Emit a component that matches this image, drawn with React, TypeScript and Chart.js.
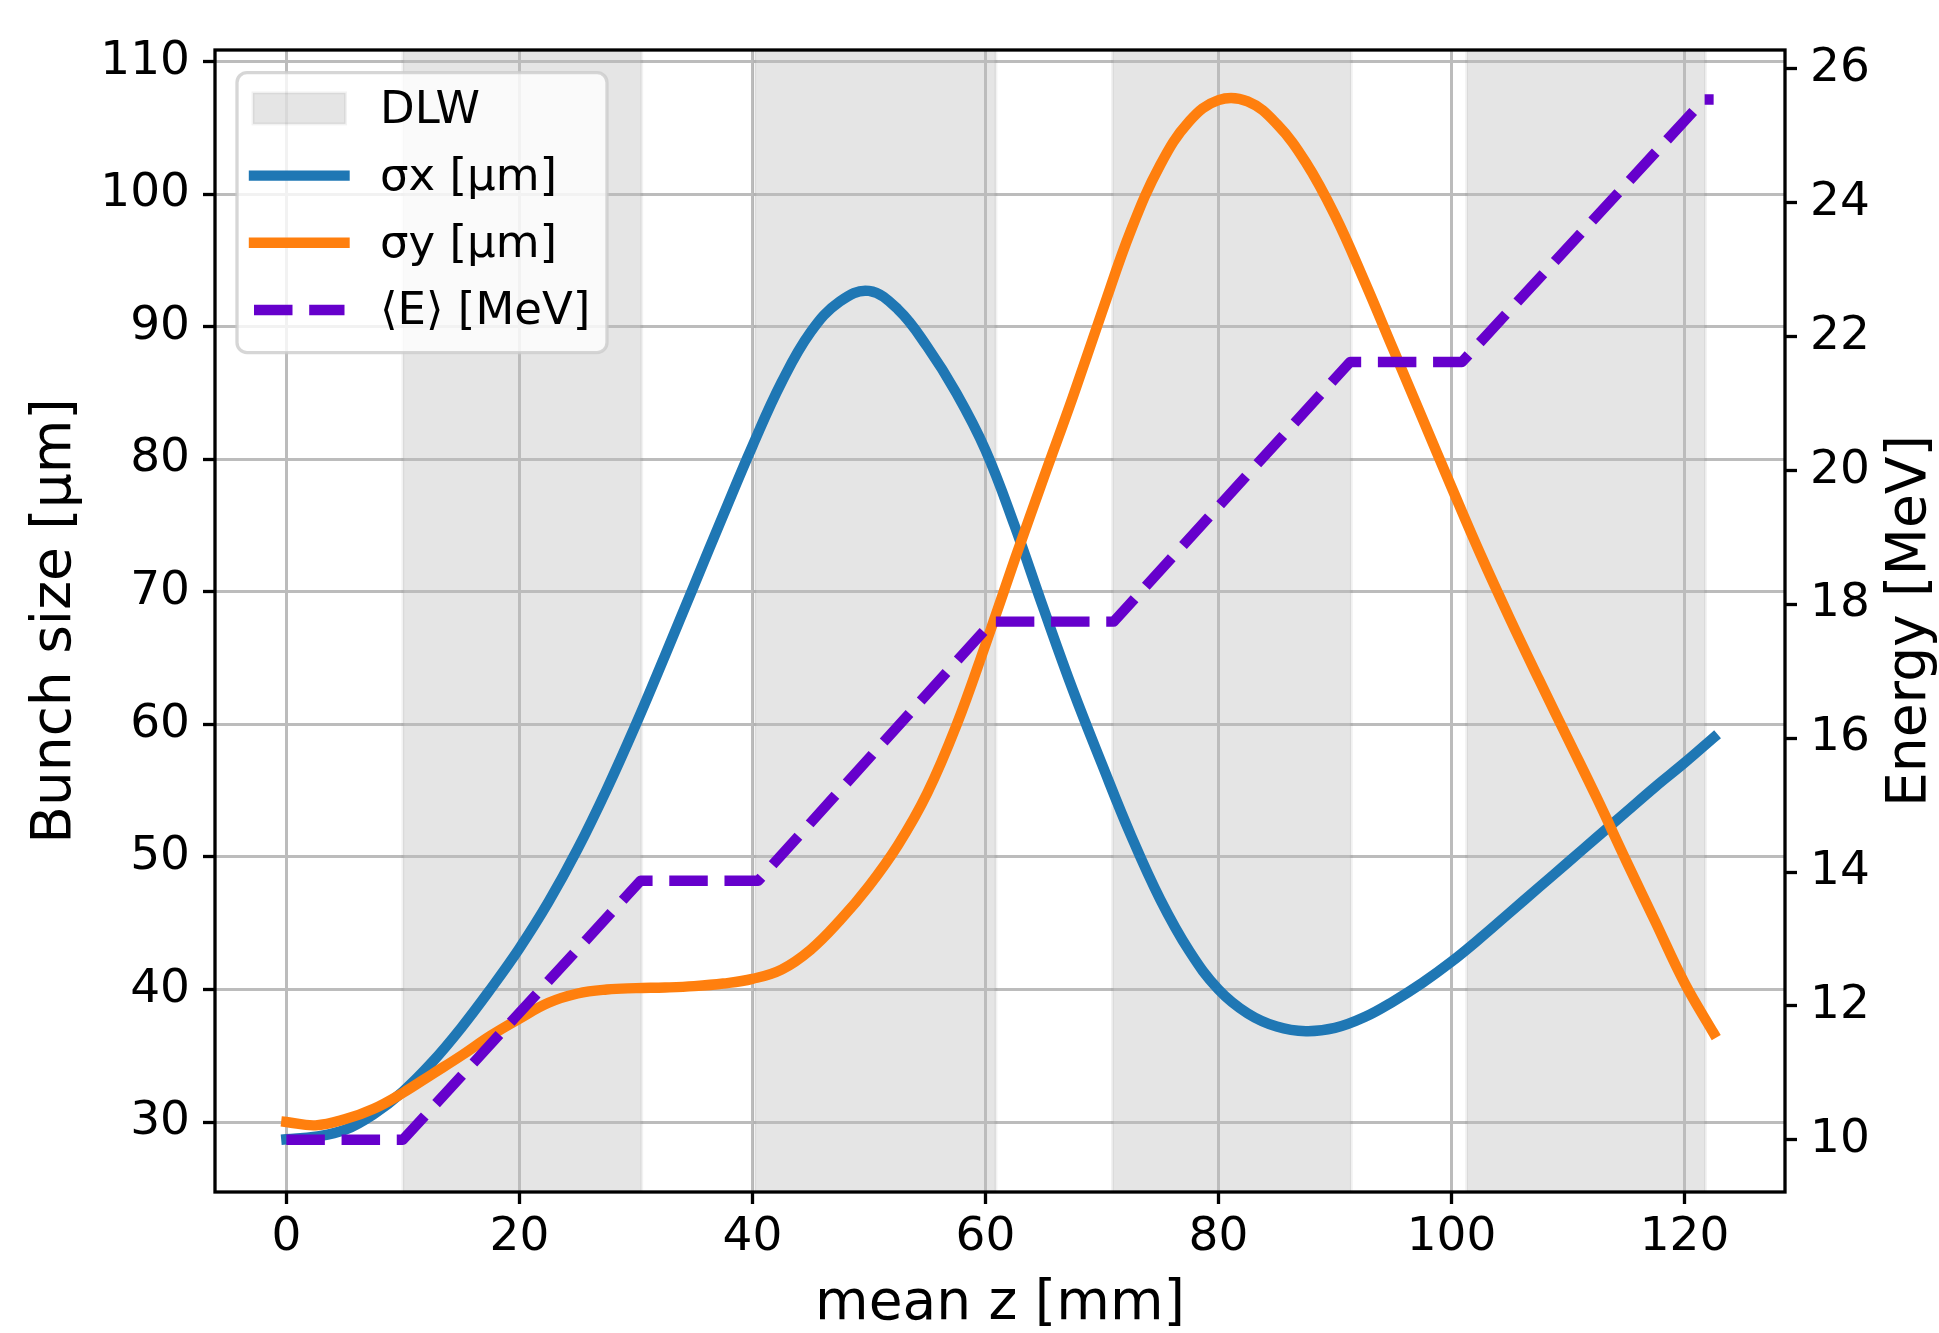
import React, { useEffect, useRef } from "react";
import { Chart, registerables } from "chart.js";

Chart.register(...registerables);

// ---------- data ----------
const Z_MM = [
  0, 2.5, 5, 7.5, 10, 12.5, 15, 17.5, 20, 22.5, 25, 27.5, 30, 32.5, 35, 37.5, 40, 42.5, 45, 47.5,
  50, 52.5, 55, 57.5, 60, 62.5, 65, 67.5, 70, 72.5, 75, 77.5, 80, 82.5, 85, 87.5, 90, 92.5, 95, 97.5,
  100, 102.5, 105, 107.5, 110, 112.5, 115, 117.5, 120, 122.5,
];
const SIGMA_X = [
  28.7, 28.9, 29.4, 30.6, 32.3, 34.5, 37.1, 40.0, 43.1, 46.6, 50.6, 55.1, 60.0, 65.2, 70.5, 75.8, 81.0, 85.8, 89.6, 91.9,
  92.7, 91.3, 88.5, 85.0, 80.7, 75.0, 68.7, 62.6, 57.0, 51.6, 46.8, 42.9, 40.0, 38.2, 37.2, 36.85, 37.1, 37.9, 39.1, 40.5,
  42.1, 43.9, 45.8, 47.7, 49.6, 51.5, 53.4, 55.3, 57.1, 59.0,
];
const SIGMA_Y = [
  30.0, 29.75, 30.2, 31.0, 32.2, 33.6, 35.0, 36.5, 37.8, 39.0, 39.7, 40.0, 40.1, 40.15, 40.25, 40.45, 40.8, 41.5, 43.0, 45.2,
  47.8, 50.9, 54.8, 59.9, 66.0, 72.4, 78.6, 84.7, 91.1, 97.3, 102.2, 105.5, 107.1, 107.0, 105.3, 102.4, 98.4, 93.5, 88.3, 83.1,
  77.9, 72.8, 68.0, 63.4, 58.9, 54.4, 49.7, 45.1, 40.5, 36.7,
];
const E_Z_MM = [0, 10.0, 30.4, 40.5, 60.6, 71.0, 91.3, 100.9, 121.7, 122.5];
const E_MEV = [10.0, 10.0, 13.87, 13.87, 17.74, 17.74, 21.62, 21.62, 25.54, 25.54];
const DLW_START = [10.0, 40.2, 70.9, 101.3];
const DLW_END = [30.5, 60.9, 91.4, 121.8];

const X_TICKS = [0, 20, 40, 60, 80, 100, 120];
const LEFT_TICKS = [30, 40, 50, 60, 70, 80, 90, 100, 110];
const RIGHT_TICKS = [10, 12, 14, 16, 18, 20, 22, 24, 26];

const X_RANGE = [-6.125, 128.625];
const LEFT_RANGE = [24.72, 110.88];
const RIGHT_RANGE = [9.22, 26.28];

const LABEL_SERIES = ["DLW", "σx [µm]", "σy [µm]", "⟨E⟩ [MeV]"];
const X_TITLE = "mean z [mm]";
const LEFT_TITLE = "Bunch size [µm]";
const RIGHT_TITLE = "Energy [MeV]";

// ---------- styles ----------
const FAMILY = "DejaVu Sans";
const TICK_PX = 47;
const TITLE_PX = 55;
const LEGEND_PX = 45;
const GRID = "#bcbcbc";
const BAND_FILL = "rgba(0,0,0,0.1)";
const BAND_EDGE = "rgba(0,0,0,0.05)";

const spinesPlugin = {
  id: "spines",
  afterDatasetsDraw(chart: any) {
    const { ctx, chartArea: a } = chart;
    ctx.save();
    ctx.strokeStyle = "#000";
    ctx.lineWidth = 3.3;
    ctx.lineJoin = "miter";
    ctx.strokeRect(a.left, a.top, a.right - a.left, a.bottom - a.top);
    ctx.restore();
  },
};

const decorPlugin = {
  id: "decor",
  afterDraw(chart: any) {
    const { ctx, chartArea: a } = chart;
    const L = a.left;
    const T = a.top;
    ctx.save();
    // right axis title (reads bottom-to-top like matplotlib)
    ctx.translate(a.right + 126, (a.top + a.bottom) / 2);
    ctx.rotate(-Math.PI / 2);
    ctx.fillStyle = "#000";
    ctx.font = `${TITLE_PX}px "${FAMILY}"`;
    ctx.textAlign = "center";
    ctx.textBaseline = "middle";
    ctx.fillText(RIGHT_TITLE, 0, 0);
    ctx.restore();

    // legend
    ctx.save();
    const bx = L + 22;
    const by = T + 22.6;
    const bw = 370;
    const bh = 280;
    ctx.beginPath();
    (ctx as any).roundRect(bx, by, bw, bh, 10);
    ctx.fillStyle = "rgba(255,255,255,0.8)";
    ctx.fill();
    ctx.lineWidth = 3.3;
    ctx.strokeStyle = "rgba(204,204,204,0.8)";
    ctx.stroke();

    const rowY0 = T + 58.4;
    const rowGap = 67.2;
    const hx0 = L + 39;
    const hx1 = L + 129.5;
    const tx = L + 165;
    chart.data.datasets.forEach((ds: any, i: number) => {
      const y = rowY0 + i * rowGap;
      if (ds.fill) {
        ctx.fillStyle = ds.backgroundColor;
        ctx.fillRect(hx0 - 1, y - 15.5, hx1 - hx0 + 2, 31);
        ctx.strokeStyle = ds.borderColor;
        ctx.lineWidth = 3;
        ctx.strokeRect(hx0 - 1, y - 15.5, hx1 - hx0 + 2, 31);
      } else {
        ctx.beginPath();
        ctx.setLineDash(ds.borderDash || []);
        ctx.lineCap = ds.borderCapStyle || "butt";
        ctx.strokeStyle = ds.borderColor;
        ctx.lineWidth = ds.borderWidth;
        ctx.moveTo(hx0, y);
        ctx.lineTo(hx1, y);
        ctx.stroke();
        ctx.setLineDash([]);
      }
      ctx.fillStyle = "#000";
      ctx.font = `${LEGEND_PX}px "${FAMILY}"`;
      ctx.textAlign = "left";
      ctx.textBaseline = "middle";
      ctx.fillText(ds.label, tx, y + 2.5);
    });
    ctx.restore();
  },
};

function buildBand() {
  const pts: any[] = [];
  DLW_START.forEach((s, i) => {
    const e = DLW_END[i];
    pts.push({ x: s, y: 0 }, { x: s, y: 1 }, { x: e, y: 1 }, { x: e, y: 0 });
    if (i < DLW_START.length - 1) pts.push({ x: (e + DLW_START[i + 1]) / 2, y: null });
  });
  return pts;
}

export default function App() {
  const ref = useRef<HTMLCanvasElement | null>(null);

  useEffect(() => {
    document.body.style.margin = "0";
    const canvas = ref.current;
    if (!canvas) return;
    const tickFont = { family: FAMILY, size: TICK_PX };
    const titleFont = { family: FAMILY, size: TITLE_PX, lineHeight: 1 };

    const chart = new Chart(canvas, {
      type: "line",
      data: {
        datasets: [
          {
            label: LABEL_SERIES[0],
            data: buildBand(),
            yAxisID: "yBand",
            fill: "origin",
            backgroundColor: BAND_FILL,
            borderColor: BAND_EDGE,
            borderWidth: 3,
            pointRadius: 0,
            tension: 0,
            spanGaps: false,
            order: 3,
          },
          {
            label: LABEL_SERIES[1],
            data: Z_MM.map((z, i) => ({ x: z, y: SIGMA_X[i] })),
            yAxisID: "y",
            borderColor: "#1f77b4",
            borderWidth: 10.4,
            pointRadius: 0,
            fill: false,
            tension: 0.4,
            borderCapStyle: "square",
            borderJoinStyle: "round",
            order: 2,
          },
          {
            label: LABEL_SERIES[2],
            data: Z_MM.map((z, i) => ({ x: z, y: SIGMA_Y[i] })),
            yAxisID: "y",
            borderColor: "#ff7f0e",
            borderWidth: 10.4,
            pointRadius: 0,
            fill: false,
            tension: 0.4,
            borderCapStyle: "square",
            borderJoinStyle: "round",
            order: 1,
          },
          {
            label: LABEL_SERIES[3],
            data: E_Z_MM.map((z, i) => ({ x: z, y: E_MEV[i] })),
            yAxisID: "yE",
            borderColor: "#6600cc",
            borderWidth: 10.4,
            borderDash: [38.5, 16.7],
            borderCapStyle: "butt",
            borderJoinStyle: "round",
            pointRadius: 0,
            fill: false,
            tension: 0,
            order: 0,
          },
        ],
      } as any,
      options: {
        responsive: false,
        animation: false,
        devicePixelRatio: 1,
        layout: { padding: { top: 50, left: 0, right: 0, bottom: 0 } },
        plugins: {
          legend: { display: false },
          tooltip: { enabled: false },
          filler: { drawTime: "beforeDraw" },
        } as any,
        scales: {
          x: {
            type: "linear",
            min: X_RANGE[0],
            max: X_RANGE[1],
            afterFit: (s: any) => {
              s.height = 141;
            },
            afterBuildTicks: (s: any) => {
              s.ticks = X_TICKS.map((v) => ({ value: v }));
            },
            ticks: {
              font: tickFont,
              color: "#000",
              padding: 6,
              maxRotation: 0,
              autoSkip: false,
              callback: (v: any) => String(v),
            },
            grid: {
              color: GRID,
              lineWidth: 3,
              tickColor: "#000",
              tickWidth: 3.3,
              tickLength: 12,
              drawOnChartArea: true,
              drawTicks: true,
            },
            border: { display: false },
            title: {
              display: true,
              text: X_TITLE,
              font: titleFont,
              color: "#000",
              padding: { top: 0, bottom: 0.5 },
            },
          },
          y: {
            type: "linear",
            position: "left",
            min: LEFT_RANGE[0],
            max: LEFT_RANGE[1],
            afterFit: (s: any) => {
              s.width = 215;
            },
            afterBuildTicks: (s: any) => {
              s.ticks = LEFT_TICKS.map((v) => ({ value: v }));
            },
            ticks: {
              font: tickFont,
              color: "#000",
              padding: 13,
              autoSkip: false,
              callback: (v: any) => String(v),
            },
            grid: {
              color: GRID,
              lineWidth: 3,
              tickColor: "#000",
              tickWidth: 3.3,
              tickLength: 12,
              drawOnChartArea: true,
              drawTicks: true,
            },
            border: { display: false },
            title: {
              display: true,
              text: LEFT_TITLE,
              font: titleFont,
              color: "#000",
              padding: { top: 28, bottom: 0 },
            },
          },
          yE: {
            type: "linear",
            position: "right",
            min: RIGHT_RANGE[0],
            max: RIGHT_RANGE[1],
            afterFit: (s: any) => {
              s.width = 154;
            },
            afterBuildTicks: (s: any) => {
              s.ticks = RIGHT_TICKS.map((v) => ({ value: v }));
            },
            ticks: {
              font: tickFont,
              color: "#000",
              padding: 13,
              autoSkip: false,
              callback: (v: any) => String(v),
            },
            grid: {
              drawOnChartArea: false,
              drawTicks: true,
              tickColor: "#000",
              tickWidth: 3.3,
              tickLength: 12,
            },
            border: { display: false },
          },
          yBand: {
            type: "linear",
            display: false,
            min: 0,
            max: 1,
          },
        },
      } as any,
      plugins: [spinesPlugin, decorPlugin],
    });
    return () => chart.destroy();
  }, []);

  return (
    <div style={{ width: 1939, height: 1333 }}>
      <canvas ref={ref} width={1939} height={1333} style={{ display: "block", width: 1939, height: 1333 }} />
    </div>
  );
}
